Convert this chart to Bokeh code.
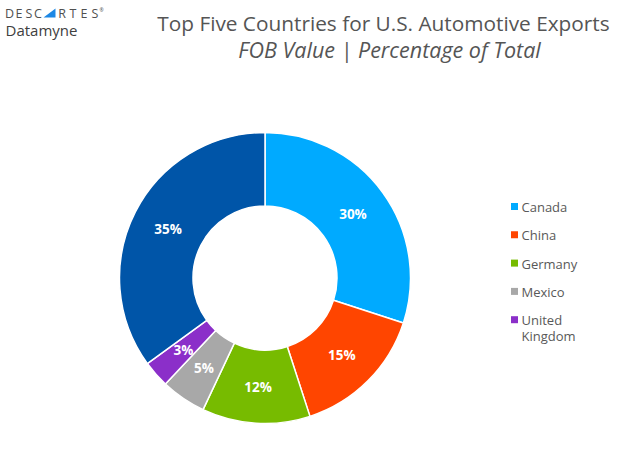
import numpy as np
from bokeh.plotting import figure
from bokeh.models import Range1d, ColumnDataSource, Label
from bokeh.core.properties import value
from bokeh.embed import file_html
from bokeh.resources import INLINE

# ---- data ----
countries = ["Canada", "China", "Germany", "Mexico", "United Kingdom", "Other"]
shares = [30, 15, 12, 5, 3, 35]
colors = ["#00AAFF", "#FF4500", "#77BB00", "#A8A8A8", "#8B2FC9", "#0055A8"]
legend_names = ["Canada", "China", "Germany", "Mexico", "United\nKingdom"]
title_text = "Top Five Countries for U.S. Automotive Exports"
subtitle_text = "FOB Value | Percentage of Total"

W, H = 617, 456
p = figure(width=W, height=H, output_backend="svg", toolbar_location=None,
           x_range=Range1d(0, W), y_range=Range1d(472 - H, 472),
           min_border=0, outline_line_color=None)
p.axis.visible = False
p.grid.visible = False

# donut geometry (pixel-like data units)
cx, cy = 264.5, 472 - 277.5
r_out, r_in = 145.5, 72

vals = np.array(shares, dtype=float)
frac = vals / vals.sum()
cum = np.concatenate([[0], np.cumsum(frac)])
start = np.pi / 2 - 2 * np.pi * cum[:-1]
end = np.pi / 2 - 2 * np.pi * cum[1:]
mid = (start + end) / 2
r_mid = (r_out + r_in) / 2

src = ColumnDataSource(dict(
    start=start, end=end, color=colors,
    lx=cx + r_mid * np.cos(mid), ly=cy + r_mid * np.sin(mid),
    lab=[f"{v}%" for v in shares],
))
p.annular_wedge(x=cx, y=cy, inner_radius=r_in, outer_radius=r_out,
                start_angle="start", end_angle="end", direction="clock",
                fill_color="color", line_color="white", line_width=1.5, source=src)
p.text(x="lx", y="ly", text="lab", source=src, text_color="white",
       text_font=value("Open Sans"), text_font_size="13.5px", text_font_style="bold",
       text_align="center", text_baseline="middle")

# legend
n = len(legend_names)
idx = np.arange(n)
row_y = 472 - (206 + 28.3 * idx)
leg = ColumnDataSource(dict(
    x=np.full(n, 514.0), y=row_y, ty=row_y + 8.5, color=colors[:n],
    tx=np.full(n, 521.0), name=legend_names,
))
p.scatter(x="x", y="y", marker="square", size=7, fill_color="color",
          line_color=None, source=leg)
p.text(x="tx", y="ty", text="name", source=leg, text_color="#595959",
       text_font=value("Open Sans"), text_font_size="13px",
       text_align="left", text_baseline="top", text_line_height=0.9)

# title
p.add_layout(Label(x=383, y=472 - 22, text=title_text, text_align="center",
                   text_baseline="middle", text_font="Open Sans",
                   text_font_size="20.8px", text_color="#555555"))
p.add_layout(Label(x=389, y=472 - 49, text=subtitle_text, text_align="center",
                   text_baseline="middle", text_font="Open Sans",
                   text_font_style="italic",
                   text_font_size="21.5px", text_color="#555555"))

# logo
letters = list("DESCARTES")
lxs = [9, 18.5, 28.5, 37.5, 49, 61.5, 72.5, 83.5, 94.5]
for i, (ch, x) in enumerate(zip(letters, lxs)):
    if i == 4:
        p.patch(x=[43, 55, 55], y=[472 - 17, 472 - 17, 472 - 8],
                fill_color="#1E88E5", line_color=None)
        continue
    p.add_layout(Label(x=x, y=472 - 12.5, text=ch, text_align="center",
                       text_baseline="middle", text_font="Open Sans",
                       text_font_size="12.5px", text_color="#505050"))
p.add_layout(Label(x=99, y=472 - 9, text="®", text_align="left",
                   text_baseline="middle", text_font="Open Sans",
                   text_font_size="5px", text_color="#505050"))
p.add_layout(Label(x=5, y=472 - 29, text="Datamyne", text_align="left",
                   text_baseline="middle", text_font="Open Sans",
                   text_font_size="15px", text_color="#404040"))

open("out.html", "w").write(file_html(p, INLINE))
